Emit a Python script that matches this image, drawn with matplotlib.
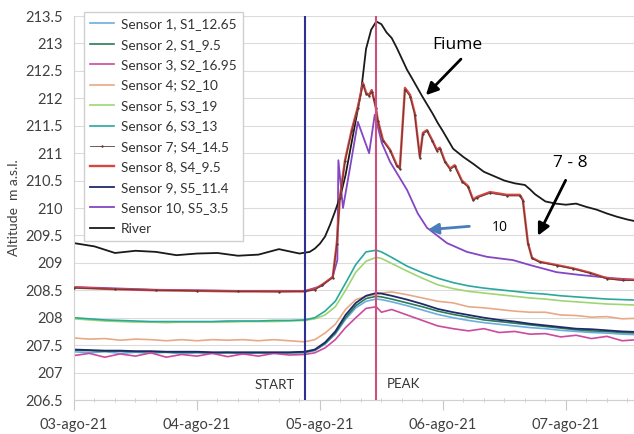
import matplotlib
matplotlib.use("Agg")
import matplotlib.pyplot as plt
import matplotlib.dates as mdates
from datetime import datetime, timedelta

plt.rcParams['font.family'] = ['Lato', 'DejaVu Sans']

start_date = datetime(2021, 8, 3)

# hours since 03-ago-21 00:00
t_low = [0, 3, 6, 9, 12, 15, 18, 21, 24, 27, 30, 33, 36, 39, 42, 45,
         47, 49, 51, 53, 55, 57, 59, 60, 62, 65, 68, 71, 74, 77, 80, 83,
         86, 89, 92, 95, 98, 101, 104, 107, 110]

s1 = [207.38, 207.36, 207.38, 207.35, 207.37, 207.35, 207.37, 207.34, 207.36, 207.35,
      207.37, 207.34, 207.36, 207.35, 207.36, 207.36, 207.40, 207.52, 207.70, 207.97,
      208.18, 208.30, 208.34, 208.33, 208.29, 208.22, 208.14, 208.06, 208.00, 207.95,
      207.91, 207.88, 207.85, 207.82, 207.80, 207.77, 207.75, 207.73, 207.72, 207.70, 207.69]
s2 = [207.41, 207.40, 207.39, 207.39, 207.38, 207.38, 207.37, 207.37, 207.37, 207.36,
      207.36, 207.36, 207.36, 207.36, 207.36, 207.37, 207.41, 207.53, 207.72, 208.00,
      208.22, 208.35, 208.39, 208.38, 208.34, 208.27, 208.20, 208.12, 208.06, 208.01,
      207.96, 207.93, 207.90, 207.87, 207.84, 207.81, 207.78, 207.76, 207.75, 207.73, 207.72]
s3 = [207.31, 207.35, 207.28, 207.34, 207.30, 207.36, 207.28, 207.33, 207.30, 207.35,
      207.29, 207.34, 207.30, 207.35, 207.32, 207.33, 207.36, 207.45, 207.60, 207.82,
      208.00, 208.17, 208.20, 208.10, 208.15, 208.05, 207.95, 207.85, 207.80, 207.76,
      207.80, 207.73, 207.75, 207.70, 207.71, 207.65, 207.68, 207.62, 207.66, 207.58, 207.60]
s4 = [207.63, 207.61, 207.62, 207.59, 207.61, 207.60, 207.58, 207.60, 207.58, 207.60,
      207.59, 207.60, 207.58, 207.60, 207.58, 207.56, 207.60, 207.72, 207.88, 208.15,
      208.33, 208.39, 208.42, 208.45, 208.47, 208.42, 208.36, 208.30, 208.27, 208.20,
      208.18, 208.15, 208.12, 208.10, 208.10, 208.05, 208.04, 208.01, 208.02, 207.98, 207.99]
s5 = [207.98, 207.96, 207.94, 207.93, 207.92, 207.92, 207.91, 207.92, 207.92, 207.92,
      207.92, 207.93, 207.93, 207.93, 207.94, 207.95, 207.98, 208.05, 208.20, 208.50,
      208.83, 209.03, 209.10, 209.08, 208.99, 208.85, 208.72, 208.60, 208.53, 208.48,
      208.45, 208.42, 208.39, 208.36, 208.34, 208.31, 208.29, 208.27, 208.25, 208.24, 208.23]
s6 = [208.00, 207.98, 207.96, 207.95, 207.94, 207.93, 207.93, 207.93, 207.93, 207.93,
      207.94, 207.94, 207.94, 207.95, 207.95, 207.96, 208.00, 208.12, 208.30, 208.63,
      208.97, 209.20, 209.23, 209.20, 209.10, 208.94, 208.82, 208.72, 208.64, 208.58,
      208.54, 208.51, 208.48, 208.45, 208.43, 208.40, 208.38, 208.36, 208.34, 208.33, 208.32]
s9 = [207.42, 207.41, 207.40, 207.40, 207.39, 207.39, 207.38, 207.38, 207.38, 207.37,
      207.37, 207.37, 207.37, 207.37, 207.37, 207.38, 207.42, 207.55, 207.75, 208.05,
      208.27, 208.40, 208.45, 208.44, 208.40, 208.33, 208.25, 208.16, 208.10, 208.05,
      208.00, 207.96, 207.93, 207.89, 207.86, 207.83, 207.80, 207.79, 207.77, 207.75, 207.74]

t_s78 = [0, 8, 16, 24, 32, 40, 45, 47, 48.4, 50.5, 51.3, 51.9, 52.9, 54.2, 55.4, 56.4,
         57.0, 57.6, 58.1, 58.5, 58.9, 59.3, 60.3, 61.7, 63.0, 63.6, 64.6, 65.6, 66.5,
         67.5, 68.1, 68.9, 69.9, 70.8, 71.4, 72.4, 73.4, 74.3, 75.7, 76.9, 77.9, 78.6,
         81.2, 84.5, 87.0, 87.6, 88.6, 89.4, 90.9, 94.2, 97.4, 100.7, 104.0, 107.1, 110]
s8 = [208.55, 208.52, 208.50, 208.49, 208.48, 208.48, 208.48, 208.52, 208.60, 208.74,
      209.36, 210.20, 210.87, 211.42, 211.84, 212.28, 212.10, 212.06, 212.15, 212.00,
      211.84, 211.60, 211.24, 211.06, 210.78, 210.73, 212.19, 212.06, 211.73, 210.93,
      211.37, 211.42, 211.24, 211.06, 211.10, 210.85, 210.72, 210.78, 210.50, 210.40,
      210.15, 210.20, 210.29, 210.24, 210.24, 210.15, 209.36, 209.09, 209.02, 208.96,
      208.90, 208.82, 208.72, 208.69, 208.69]
s7 = [208.54, 208.52, 208.50, 208.49, 208.48, 208.47, 208.48, 208.51, 208.59, 208.73,
      209.34, 210.18, 210.85, 211.40, 211.82, 212.25, 212.08, 212.04, 212.12, 211.98,
      211.82, 211.58, 211.22, 211.04, 210.76, 210.71, 212.16, 212.03, 211.70, 210.92,
      211.35, 211.40, 211.22, 211.04, 211.08, 210.83, 210.70, 210.76, 210.48, 210.38,
      210.14, 210.18, 210.27, 210.22, 210.22, 210.13, 209.35, 209.08, 209.01, 208.95,
      208.89, 208.81, 208.71, 208.68, 208.68]

t_s10 = [0, 16, 32, 45.1, 48.4, 50.5, 51.4, 51.6, 52.5, 53.9, 55.4, 57.6, 58.7, 60.1,
         61.7, 65.0, 67.1, 68.9, 72.8, 76.7, 80.6, 85.7, 89.0, 94.2, 98.7, 105.2, 110]
s10 = [208.56, 208.51, 208.49, 208.49, 208.58, 208.75, 209.05, 210.87, 210.00, 210.75,
       211.57, 211.00, 211.70, 211.18, 210.84, 210.33, 209.90, 209.64, 209.36, 209.20,
       209.11, 209.05, 208.96, 208.83, 208.78, 208.72, 208.69]

t_river = [0, 4, 8, 12, 16, 20, 24, 28, 32, 36, 40, 44, 46, 47, 48, 49, 50, 51, 52, 53,
           54, 55, 56, 57, 58, 59, 60, 61, 62, 63, 64, 65, 66, 68, 70, 71, 72, 74, 76,
           78, 80, 82, 84, 86, 88, 89, 90, 92, 94, 96, 98, 100, 102, 104, 106, 108, 110]
river = [209.36, 209.30, 209.18, 209.22, 209.20, 209.14, 209.17, 209.18, 209.13, 209.15,
         209.25, 209.17, 209.20, 209.26, 209.35, 209.48, 209.70, 209.95, 210.22, 210.60,
         211.10, 211.60, 212.10, 212.90, 213.25, 213.40, 213.35, 213.20, 213.10, 212.92,
         212.72, 212.52, 212.36, 212.03, 211.72, 211.55, 211.40, 211.08, 210.93, 210.80,
         210.66, 210.58, 210.50, 210.45, 210.42, 210.34, 210.25, 210.12, 210.08, 210.06,
         210.08, 210.02, 209.97, 209.90, 209.84, 209.79, 209.75]

start_h = 45
peak_h = 59


def to_dates(hours):
    return [start_date + timedelta(hours=h) for h in hours]


fig = plt.figure(figsize=(6.34, 4.34), dpi=100)
ax = fig.add_axes([74 / 634, 34 / 434, 560 / 634, 384 / 434])

tl = to_dates(t_low)
ax.plot(tl, s1, color='#6aaee0', lw=1.2, label='Sensor 1, S1_12.65')
ax.plot(tl, s2, color='#2e7a56', lw=1.2, label='Sensor 2, S1_9.5')
ax.plot(tl, s3, color='#cc4a9e', lw=1.2, label='Sensor 3, S2_16.95')
ax.plot(tl, s4, color='#e8a987', lw=1.2, label='Sensor 4; S2_10')
ax.plot(tl, s5, color='#9ed673', lw=1.2, label='Sensor 5, S3_19')
ax.plot(tl, s6, color='#2aa89c', lw=1.2, label='Sensor 6, S3_13')
ax.plot(to_dates(t_s78), s8, color='#d8463e', lw=1.7, label='Sensor 8, S4_9.5', zorder=3)
ax.plot(to_dates(t_s78), s7, color='#5a3a3a', lw=0.6, marker='+', ms=1.8,
        label='Sensor 7; S4_14.5', zorder=4)
ax.plot(tl, s9, color='#1f2a6b', lw=1.3, label='Sensor 9, S5_11.4')
ax.plot(to_dates(t_s10), s10, color='#8446c4', lw=1.3, label='Sensor 10, S5_3.5')
ax.plot(to_dates(t_river), river, color='#1a1a1a', lw=1.3, label='River')

ax.axvline(start_date + timedelta(hours=start_h), color='#2e3192', lw=1.5, zorder=5)
ax.axvline(start_date + timedelta(hours=peak_h), color='#d0507c', lw=1.5, zorder=5)

ax.set_xlim(start_date, start_date + timedelta(hours=109.3))
ax.set_ylim(206.5, 213.5)
ax.set_yticks([206.5 + 0.5 * i for i in range(15)])
ax.set_yticklabels(['{:g}'.format(206.5 + 0.5 * i) for i in range(15)])
ax.yaxis.grid(True, color='#dcdcdc', lw=0.8)
ax.set_axisbelow(True)

ax.xaxis.set_major_locator(mdates.DayLocator())
ax.xaxis.set_minor_locator(mdates.HourLocator(byhour=[4, 8, 12, 16, 20]))
ax.xaxis.set_major_formatter(mdates.DateFormatter('%d-ago-%y'))
ax.tick_params(axis='x', which='major', length=7, color='#c8c8c8', labelsize=10.5,
               labelcolor='#404040', pad=6)
ax.tick_params(axis='x', which='minor', length=3, color='#c8c8c8', direction='inout')
ax.tick_params(axis='y', length=0, labelsize=10.5, labelcolor='#404040', pad=8)
for side in ['top', 'right']:
    ax.spines[side].set_visible(False)
for side in ['left', 'bottom']:
    ax.spines[side].set_color('#d0d0d0')

ax.set_ylabel('Altitude  m a.s.l.', fontsize=10, color='#404040', labelpad=4)

handles, labels = ax.get_legend_handles_labels()
order = ['Sensor 1, S1_12.65', 'Sensor 2, S1_9.5', 'Sensor 3, S2_16.95', 'Sensor 4; S2_10',
         'Sensor 5, S3_19', 'Sensor 6, S3_13', 'Sensor 7; S4_14.5', 'Sensor 8, S4_9.5',
         'Sensor 9, S5_11.4', 'Sensor 10, S5_3.5', 'River']
hmap = dict(zip(labels, handles))
leg = ax.legend([hmap[k] for k in order], order, loc='upper left',
                bbox_to_anchor=(84 / 634, 1 - 12 / 434), bbox_transform=fig.transFigure,
                fontsize=9.8, labelspacing=0.62, handlelength=1.75, handletextpad=0.5,
                borderpad=0.45, fancybox=False, framealpha=1, edgecolor='#d0d0d0',
                borderaxespad=0)
for txt in leg.get_texts():
    txt.set_color('#333333')

# annotations
def hd(h):
    return start_date + timedelta(hours=h)

ax.text(hd(43.0), 206.77, 'START', fontsize=9.5, color='#333333', ha='right', va='center')
ax.text(hd(61.0), 206.79, 'PEAK', fontsize=9.5, color='#333333', ha='left', va='center')

ann_font = ['Open Sans', 'DejaVu Sans']
ax.text(hd(74.9), 212.97, 'Fiume', fontsize=12.5, family=ann_font, ha='center', va='center')
ax.annotate('', xy=(hd(68.3), 212.02), xytext=(hd(75.9), 212.75),
            arrowprops=dict(arrowstyle='-|>', color='black', lw=2, mutation_scale=18))
ax.text(hd(96.8), 210.82, '7 - 8', fontsize=12.5, family=ann_font, ha='center', va='center')
ax.annotate('', xy=(hd(90.3), 209.45), xytext=(hd(96.2), 210.55),
            arrowprops=dict(arrowstyle='-|>', color='black', lw=2, mutation_scale=18))
ax.text(hd(83.1), 209.64, '10', fontsize=10, family=ann_font, ha='center', va='center')
ax.annotate('', xy=(hd(68.5), 209.6), xytext=(hd(77.7), 209.67),
            arrowprops=dict(arrowstyle='-|>', color='#4a7ebb', lw=2, mutation_scale=16))

fig.savefig('out.png', dpi=100)
